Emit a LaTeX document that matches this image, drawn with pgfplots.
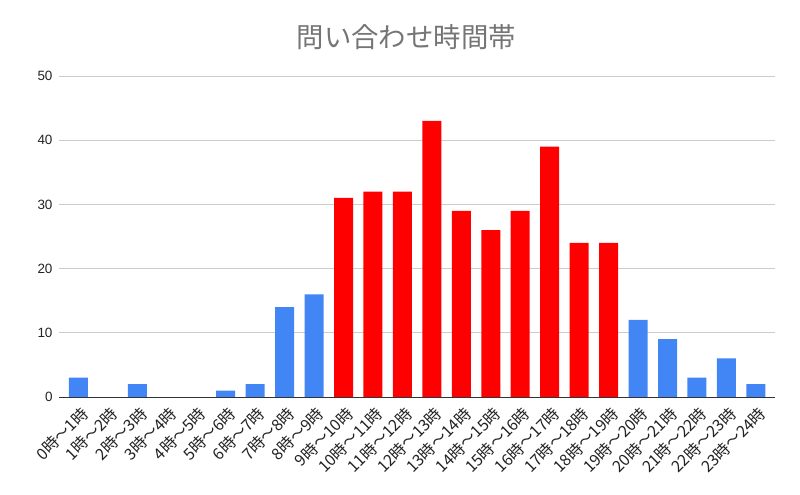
\documentclass[border=0pt]{standalone}
\usepackage{fontspec}
\setmainfont{Liberation Sans}
\newfontfamily\cjk{Noto Sans CJK JP}
\usepackage{pgfplots}
\pgfplotsset{compat=1.18}
\definecolor{gblue}{HTML}{4285F4}
\definecolor{gred}{HTML}{FF0000}
\definecolor{ggrid}{HTML}{CCCCCC}
\definecolor{gaxis}{HTML}{333333}
\definecolor{gtitle}{HTML}{757575}
\definecolor{glabel}{HTML}{222222}
\begin{document}
\begin{tikzpicture}
\path[use as bounding box] (0,0) rectangle (800bp,495bp);
\begin{axis}[
  at={(59bp,98bp)}, anchor=south west,
  scale only axis, width=716bp, height=321bp,
  xmin=-0.66, xmax=23.65, ymin=0, ymax=50,
  ytick={0,10,...,50},
  xtick={0,...,23},
  xticklabels={0時〜1時,1時〜2時,2時〜3時,3時〜4時,4時〜5時,5時〜6時,6時〜7時,7時〜8時,8時〜9時,9時〜10時,10時〜11時,11時〜12時,12時〜13時,13時〜14時,14時〜15時,15時〜16時,16時〜17時,17時〜18時,18時〜19時,19時〜20時,20時〜21時,21時〜22時,22時〜23時,23時〜24時},
  xticklabel style={xshift=1.5bp, yshift=-8bp, font=\cjk\fontsize{16}{16}\selectfont, rotate=45, anchor=north east, text=glabel, inner sep=0bp},
  yticklabel style={font=\fontsize{13.5}{13.5}\selectfont, text=glabel, xshift=-3bp},
  /pgf/number format/assume math mode=true,
  ymajorgrids, grid style={ggrid, line width=0.8pt},
  axis lines*=left,
  x axis line style={gaxis, line width=1pt, -},
  y axis line style={draw=none},
  major tick length=0pt,
  tick style={draw=none},
  ybar, bar width=19bp,
  title={\cjk 問い合わせ時間帯},
  title style={at={(axis description cs:0.485,1)}, anchor=center, yshift=33bp, font=\fontsize{27.5}{27.5}\selectfont, text=gtitle},
]
\addplot[fill=gblue, draw=none, bar shift=0pt] coordinates {(0,3)(2,2)(5,1)(6,2)(7,14)(8,16)(19,12)(20,9)(21,3)(22,6)(23,2)};
\addplot[fill=gred, draw=none, bar shift=0pt] coordinates {(9,31)(10,32)(11,32)(12,43)(13,29)(14,26)(15,29)(16,39)(17,24)(18,24)};
\end{axis}
\end{tikzpicture}
\end{document}
